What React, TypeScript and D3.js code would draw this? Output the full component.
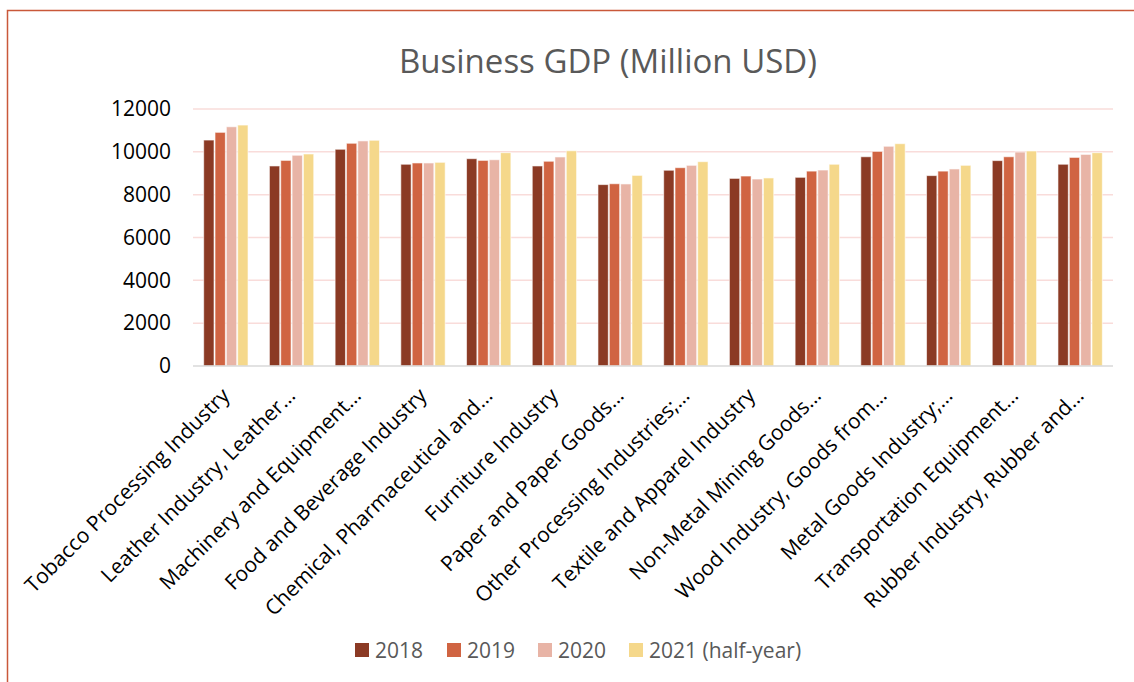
import { useRef, useEffect } from 'react'
import * as d3 from 'd3'

const industries = [
  'Tobacco Processing Industry',
  'Leather Industry, Leather…',
  'Machinery and Equipment…',
  'Food and Beverage Industry',
  'Chemical, Pharmaceutical and…',
  'Furniture Industry',
  'Paper and Paper Goods…',
  'Other Processing Industries;…',
  'Textile and Apparel Industry',
  'Non-Metal Mining Goods…',
  'Wood Industry, Goods from…',
  'Metal Goods Industry;…',
  'Transportation Equipment…',
  'Rubber Industry, Rubber and…',
]

const gdp2018 = [10550, 9340, 10120, 9420, 9680, 9340, 8470, 9140, 8760, 8810, 9770, 8890, 9590, 9420]
const gdp2019 = [10910, 9600, 10400, 9480, 9600, 9560, 8510, 9260, 8870, 9100, 10020, 9100, 9770, 9740]
const gdp2020 = [11170, 9840, 10510, 9480, 9630, 9760, 8500, 9370, 8730, 9150, 10260, 9200, 9990, 9880]
const gdp2021 = [11250, 9900, 10540, 9510, 9960, 10050, 8900, 9540, 8780, 9420, 10380, 9370, 10040, 9960]

const seriesNames = ['2018', '2019', '2020', '2021 (half-year)']
const seriesColors = ['#8B3A24', '#D06442', '#E8B4A6', '#F5D88B']
const yTicks = [0, 2000, 4000, 6000, 8000, 10000, 12000]

export default function App() {
  const svgRef = useRef<SVGSVGElement>(null)

  useEffect(() => {
    if (!svgRef.current) return
    const svg = d3.select(svgRef.current)
    svg.selectAll('*').remove()

    const width = 1134
    const height = 682
    const margin = { top: 109, right: 21, bottom: 316, left: 193 }
    const innerW = width - margin.left - margin.right
    const innerH = height - margin.top - margin.bottom
    const font = '"Open Sans", Calibri, sans-serif'

    svg.attr('width', width).attr('height', height)

    // outer frame (right/bottom edges are cut off in the picture)
    svg.append('rect')
      .attr('x', 7.5)
      .attr('y', 10.5)
      .attr('width', width + 20)
      .attr('height', height + 20)
      .attr('fill', '#fff')
      .attr('stroke', '#C9583A')
      .attr('stroke-width', 1.5)

    svg.append('text')
      .attr('x', 608)
      .attr('y', 73)
      .attr('text-anchor', 'middle')
      .attr('fill', '#595959')
      .attr('font-size', '33px')
      .attr('font-family', font)
      .text('Business GDP (Million USD)')

    const g = svg.append('g').attr('transform', `translate(${margin.left},${margin.top})`)

    const x0 = d3.scaleBand<string>().domain(industries).range([0, innerW]).paddingInner(0.31).paddingOuter(0.155)
    const x1 = d3.scaleBand<number>().domain([0, 1, 2, 3]).range([0, x0.bandwidth()]).padding(0)
    const y = d3.scaleLinear().domain([0, 12000]).range([innerH, 0])

    // grid
    g.selectAll('.grid')
      .data(yTicks.filter((d) => d > 0))
      .enter()
      .append('line')
      .attr('x1', 0)
      .attr('x2', innerW)
      .attr('y1', (d) => y(d))
      .attr('y2', (d) => y(d))
      .attr('stroke', '#F9DCDA')
      .attr('stroke-width', 1.5)

    // y labels
    g.append('g')
      .call(d3.axisLeft(y).tickValues(yTicks).tickFormat((d) => `${d}`).tickSize(0).tickPadding(22))
      .call((a) => a.select('.domain').remove())
      .selectAll('text')
      .attr('fill', '#000')
      .attr('font-size', '21px')
      .attr('font-family', font)

    const series = [gdp2018, gdp2019, gdp2020, gdp2021]
    series.forEach((vals, si) => {
      g.selectAll(`.bar-${si}`)
        .data(vals)
        .enter()
        .append('rect')
        .attr('x', (_, i) => (x0(industries[i]) ?? 0) + (x1(si) ?? 0) + 0.5)
        .attr('y', (d) => y(d))
        .attr('width', x1.bandwidth() - 1)
        .attr('height', (d) => innerH - y(d))
        .attr('fill', seriesColors[si])
        .attr('stroke', '#fff')
        .attr('stroke-opacity', 0.6)
        .attr('stroke-width', 1)
    })

    // baseline
    g.append('line')
      .attr('x1', 0)
      .attr('x2', innerW)
      .attr('y1', innerH)
      .attr('y2', innerH)
      .attr('stroke', '#D9D9D9')
      .attr('stroke-width', 1.5)

    // x labels
    g.selectAll('.xlab')
      .data(industries)
      .enter()
      .append('text')
      .attr('transform', (d) => {
        const cx = (x0(d) ?? 0) + x0.bandwidth() / 2 + 5
        return `translate(${cx},${innerH + 31}) rotate(-45)`
      })
      .attr('text-anchor', 'end')
      .attr('fill', '#000')
      .attr('font-size', '21px')
      .attr('font-family', font)
      .text((d) => d)

    // legend
    const legend = svg.append('g').attr('transform', 'translate(355,650)')
    const offsets = [0, 92, 183, 274]
    seriesNames.forEach((name, i) => {
      const item = legend.append('g').attr('transform', `translate(${offsets[i]},0)`)
      item.append('rect').attr('x', 0).attr('y', -7).attr('width', 14).attr('height', 14).attr('fill', seriesColors[i])
      item.append('text')
        .attr('x', 20)
        .attr('y', 7.5)
        .attr('fill', '#595959')
        .attr('font-size', '21px')
        .attr('font-family', font)
        .text(name)
    })
  }, [])

  return (
    <div style={{ position: 'absolute', left: 0, top: 0 }}>
      <svg ref={svgRef} style={{ display: 'block' }} />
    </div>
  )
}
